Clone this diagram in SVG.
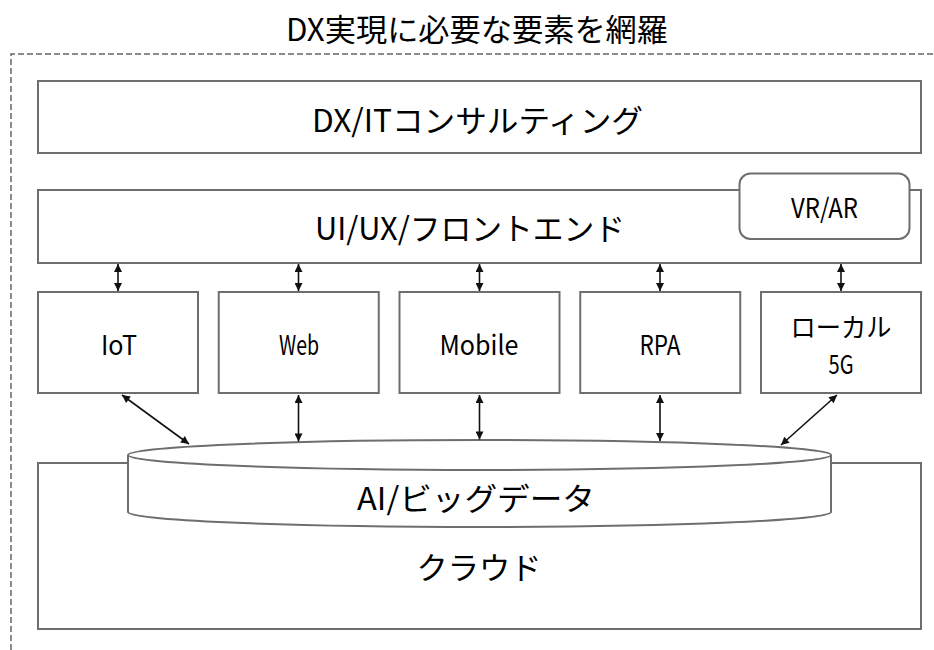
<svg xmlns="http://www.w3.org/2000/svg" width="934" height="650" viewBox="0 0 934 650">
<style>
.box{fill:#fff;stroke:#6e6e6e;stroke-width:2}
.frame{fill:none;stroke:#666;stroke-width:1.5;stroke-dasharray:6 3}
.t{font-family:"Noto Sans CJK JP","Noto Sans",sans-serif;font-weight:400;fill:#000;text-anchor:middle;dominant-baseline:central;}
.big{font-size:31px}
.mid{font-size:27px}
.arr{fill:none;stroke:#111;stroke-width:1.6;marker-start:url(#ah);marker-end:url(#ah)}
</style>
<defs>
<marker id="ah" viewBox="0 0 10 10" refX="10" refY="5" markerWidth="10" markerHeight="8" markerUnits="userSpaceOnUse" orient="auto-start-reverse">
<path d="M0,0 L10,5 L0,10 Z" fill="#111"/>
</marker>
</defs>
<rect width="934" height="650" fill="#fff"/>
<g id="title">
<text class="t big" x="477" y="27.5" textLength="382" lengthAdjust="spacingAndGlyphs">DX実現に必要な要素を網羅</text>
</g>
<path class="frame" d="M11,650 V54 H934"/>
<g id="consulting">
<rect class="box" x="38" y="81" width="883" height="72"/>
<text class="t big" x="477.5" y="118" textLength="331" lengthAdjust="spacingAndGlyphs">DX/ITコンサルティング</text>
</g>
<g id="frontend">
<rect class="box" x="38" y="190" width="883" height="73"/>
<text class="t big" x="470" y="226.5" textLength="310" lengthAdjust="spacingAndGlyphs">UI/UX/フロントエンド</text>
</g>
<g id="vrar">
<rect class="box" x="739.5" y="173.5" width="170" height="65.5" rx="11"/>
<text class="t mid" x="824.5" y="206" textLength="67" lengthAdjust="spacingAndGlyphs">VR/AR</text>
</g>
<g id="iot">
<rect class="box" x="38" y="292" width="160" height="101"/>
<text class="t mid" x="119" y="343" textLength="36" lengthAdjust="spacingAndGlyphs">IoT</text>
</g>
<g id="web">
<rect class="box" x="218.75" y="292" width="160" height="101"/>
<text class="t mid" x="299" y="343" textLength="40" lengthAdjust="spacingAndGlyphs">Web</text>
</g>
<g id="mobile">
<rect class="box" x="399.5" y="292" width="160" height="101"/>
<text class="t mid" x="479" y="343" textLength="79" lengthAdjust="spacingAndGlyphs">Mobile</text>
</g>
<g id="rpa">
<rect class="box" x="580.25" y="292" width="160" height="101"/>
<text class="t mid" x="660" y="343" textLength="41" lengthAdjust="spacingAndGlyphs">RPA</text>
</g>
<g id="local5g">
<rect class="box" x="761" y="292" width="160" height="101"/>
<text class="t" style="font-size:26px" x="841" y="325" textLength="101" lengthAdjust="spacingAndGlyphs">ローカル</text>
<text class="t" style="font-size:26px" x="841" y="362" textLength="25" lengthAdjust="spacingAndGlyphs">5G</text>
</g>
<g id="cloud">
<rect class="box" x="38" y="463" width="883" height="166"/>
<text class="t big" x="479" y="565" textLength="125" lengthAdjust="spacingAndGlyphs">クラウド</text>
</g>
<g id="bigdata">
<path class="box" d="M128,455 A351.5,15 0 0 1 831,455 V512 A351.5,15 0 0 1 128,512 Z"/>
<path class="box" style="fill:none" d="M128,455 A351.5,15 0 0 0 831,455"/>
<text class="t big" x="476" y="496" textLength="238" lengthAdjust="spacingAndGlyphs">AI/ビッグデータ</text>
</g>
<g id="connectors">
<line class="arr" x1="118" y1="264" x2="118" y2="291"/>
<line class="arr" x1="298.5" y1="264" x2="298.5" y2="291"/>
<line class="arr" x1="479.5" y1="264" x2="479.5" y2="291"/>
<line class="arr" x1="660" y1="264" x2="660" y2="291"/>
<line class="arr" x1="841" y1="264" x2="841" y2="291"/>
<line class="arr" x1="122" y1="395" x2="189" y2="444"/>
<line class="arr" x1="298.5" y1="395" x2="298.5" y2="441.5"/>
<line class="arr" x1="479.5" y1="395" x2="479.5" y2="439.5"/>
<line class="arr" x1="660" y1="395" x2="660" y2="441"/>
<line class="arr" x1="837" y1="395" x2="781" y2="445"/>
</g>
</svg>
